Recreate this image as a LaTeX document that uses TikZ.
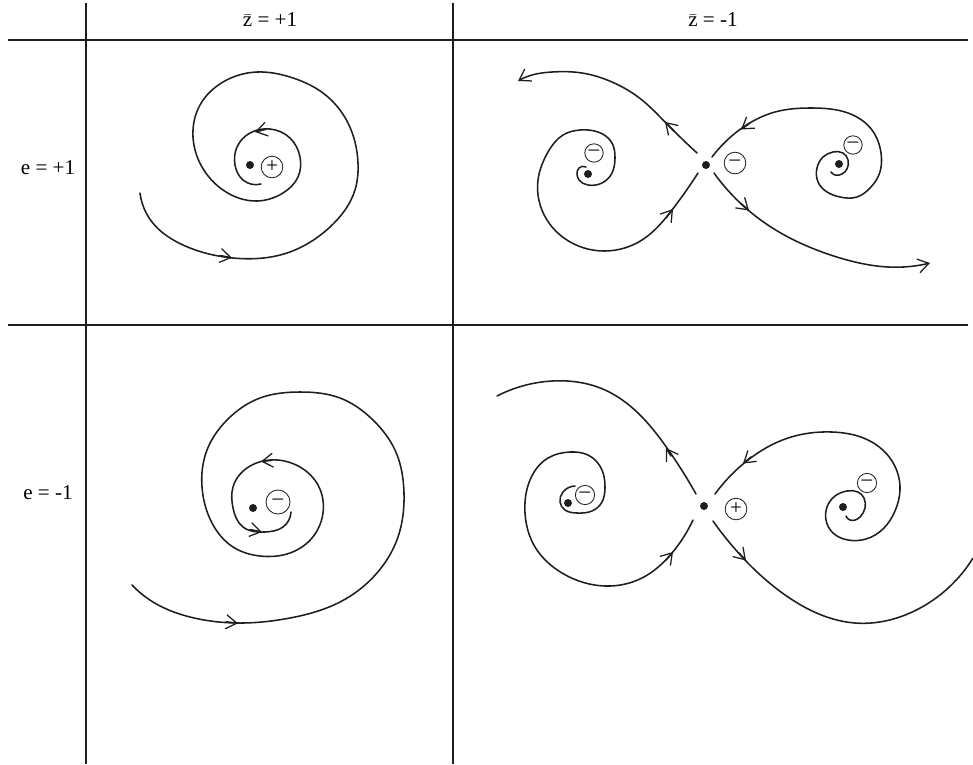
\documentclass[tikz,border=0pt]{standalone}
\usepackage{fontspec}
\setmainfont{Liberation Serif}
\usepackage{tikz}
\usetikzlibrary{arrows.meta,hobby}
\definecolor{pplink}{RGB}{30,30,30}
\tikzset{
  barb/.tip={Straight Barb[length=2.7mm,width=3.5mm,line width=0.9pt]},
  flow/.style={pplink,line width=1.1pt,line cap=round,use Hobby shortcut},
  rule/.style={pplink,line width=0.9pt},
  pole/.style={circle,fill=pplink,inner sep=0pt,minimum size=2mm},
  sign/.style={circle,draw=pplink,line width=0.6pt,inner sep=0pt,minimum size=#1,font=\fontsize{15}{15}\selectfont},
  sign/.default=5.4mm,
  head/.style={font=\fontsize{15}{18}\selectfont}
}

\begin{document}
\begin{tikzpicture}[x=0.025cm,y=-0.025cm]
  \useasboundingbox (0,0) rectangle (973,764);
  \foreach \y in {40,325}
    \draw[rule] (8,\y) -- (968,\y);
  \foreach \x in {86,453}
    \draw[rule] (\x,3) -- (\x,764);
  \node[head] (zplus) at (270,20) {$\bar{\textrm{z}}$ = +1};
  \node[head] (zminus) at (713,20) {$\bar{\textrm{z}}$ = -1};
  \node[head] (eplus) at (48,168) {e = +1};
  \node[head] (eminus) at (48,493) {e = -1};

  % e = +1, zbar = +1
  \draw[flow] (140,193) .. (152,222) .. (183,245) .. (233,258) .. (287,253) .. (330,227) .. (355,190) .. (358,163) .. (348,123) .. (323,93) .. (290,77) .. (257,72) .. (223,82) .. (200,105) .. (193,137) .. (202,167) .. (223,190) .. (257,201) .. (283,193) .. (298,177) .. (300,157) .. (290,138) .. (270,129) .. (250,133) .. (237,147) .. (235,165) .. (243,180) .. (261,184);
  \draw[flow,-barb] (220,255.5) -- (232,257.8);
  \draw[flow,-barb] (266,129.3) -- (255,132);
  \node[pole] (focA) at (250,165) {};
  \node[sign] (sgnA) at (272,167) {+};

  % e = -1, zbar = +1
  \draw[flow] (132,585) .. (153,602) .. (190,617) .. (237,623) .. (290,618) .. (340,602) .. (377,573) .. (398,537) .. (404,493) .. (395,450) .. (373,420) .. (340,398) .. (300,392) .. (260,398) .. (227,420) .. (207,450) .. (202,487) .. (212,523) .. (233,547) .. (260,556) .. (290,553) .. (312,538) .. (323,513) .. (318,485) .. (300,467) .. (270,460) .. (247,468) .. (233,487) .. (233,508) .. (243,527) .. (265,532) .. (283,527) .. (291,512);
  \draw[flow,-barb] (226,621.8) -- (238,623.3);
  \draw[flow,-barb] (272,460.3) -- (261,461.5);
  \draw[flow,-barb] (250,529.5) -- (262,532);
  \node[pole] (focB) at (253,508) {};
  \node[sign=6mm] (sgnB) at (278,502) {–};

  % e = +1, zbar = -1
  \draw[flow,-barb] (697,153) .. (665,122) .. (642,100) .. (612,82) .. (582,73) .. (552,72) .. (532,75) .. (518,81);
  \draw[flow] (586,167) .. (579,168) .. (577,173) .. (579,180) .. (588,185) .. (602,183) .. (612,173) .. (615,158) .. (612,143) .. (598,132) .. (580,130) .. (563,135) .. (548,152) .. (538,180) .. (547,220) .. (572,243) .. (605,251) .. (642,240) .. (672,210) .. (698,173);
  \draw[flow] (831,172) .. (835,175) .. (842,174) .. (847,169) .. (848,160) .. (843,153) .. (833,152) .. (823,157) .. (817,168) .. (818,182) .. (827,192) .. (840,197) .. (857,197) .. (870,188) .. (878,177) .. (881,153) .. (872,130) .. (848,113) .. (812,108) .. (775,112) .. (742,128) .. (712,157);
  \draw[flow,-barb] (714,173) .. (748,210) .. (788,237) .. (822,252) .. (855,262) .. (888,267) .. (930,263);
  \draw[flow,-barb] (674,131) -- (665,122);
  \draw[flow,-barb] (666,218) -- (673,209);
  \draw[flow,-barb] (750,123) -- (741,129.5);
  \draw[flow,-barb] (741,203.5) -- (749,210.5);
  \node[pole] (sadC) at (706,165) {};
  \node[sign] (sgnC) at (735,163) {–};
  \node[pole] (focCl) at (588,174) {};
  \node[sign=4.6mm] (sgnCl) at (594,153) {–};
  \node[pole] (focCr) at (839,164) {};
  \node[sign=4.6mm] (sgnCr) at (853,145) {–};

  % e = -1, zbar = -1
  \draw[flow] (696,494) .. (667,448) .. (642,417) .. (605,390) .. (552,381) .. (497,396);
  \draw[flow] (575,486) .. (563,492) .. (560,502) .. (565,510) .. (577,513) .. (592,511) .. (602,502) .. (605,488) .. (602,470) .. (588,455) .. (570,452) .. (548,458) .. (530,480) .. (525,513) .. (535,547) .. (562,573) .. (605,586) .. (642,578) .. (672,553) .. (693,520);
  \draw[flow] (846,516) .. (850,520) .. (860,517) .. (865,508) .. (864,498) .. (858,492) .. (847,491) .. (835,496) .. (827,507) .. (826,520) .. (833,533) .. (848,540) .. (866,539) .. (883,529) .. (895,511) .. (900,490) .. (892,461) .. (868,440) .. (832,432) .. (788,438) .. (748,460) .. (715,494);
  \draw[flow] (713,521) .. (745,560) .. (788,597) .. (855,623) .. (922,607) .. (973,558);
  \draw[flow,-barb] (671,456) -- (666,448);
  \draw[flow,-barb] (666,560) -- (673,552);
  \draw[flow,-barb] (751,457) -- (743,463.5);
  \draw[flow,-barb] (739,553) -- (746,560.5);
  \node[pole] (sadD) at (704,506) {};
  \node[sign] (sgnD) at (736,509) {+};
  \node[pole] (focDl) at (568,503) {};
  \node[sign=4.8mm] (sgnDl) at (585,495) {–};
  \node[pole] (focDr) at (843,507) {};
  \node[sign=4.8mm] (sgnDr) at (867,483) {–};
\end{tikzpicture}
\end{document}
